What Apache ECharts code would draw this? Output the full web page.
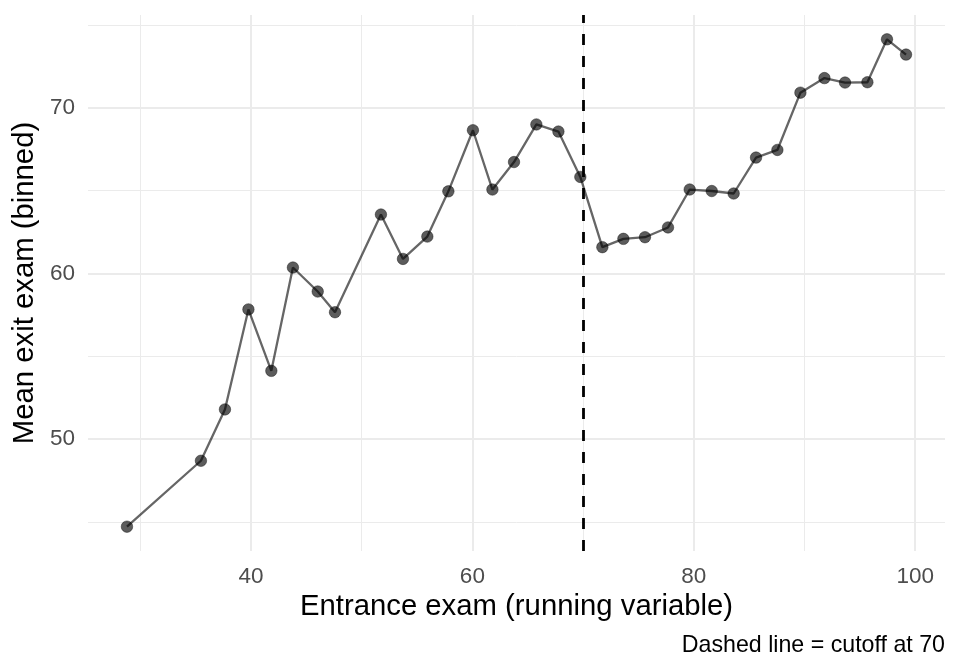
<!DOCTYPE html>
<html>
<head>
<meta charset="utf-8">
<script src="https://cdn.jsdelivr.net/npm/echarts@6/dist/echarts.min.js"></script>
<style>
html,body{margin:0;padding:0;background:#fff;}
#chart{width:960px;height:672px;}
</style>
</head>
<body>
<div id="chart"></div>
<script>
// Data
var entrance = [28.8, 35.48, 37.65, 39.77, 41.84, 43.79, 46.03, 47.59, 51.74, 53.73, 55.93, 57.83, 60.05, 61.81, 63.76, 65.78, 67.77, 69.75, 71.74, 73.64, 75.59, 77.67, 79.63, 81.62, 83.6, 85.62, 87.55, 89.63, 91.8, 93.66, 95.68, 97.45, 99.17];
var exitMean = [44.71, 48.69, 51.79, 57.83, 54.12, 60.36, 58.91, 57.66, 63.56, 60.88, 62.23, 64.96, 68.65, 65.07, 66.73, 69.0, 68.57, 65.83, 61.59, 62.09, 62.19, 62.78, 65.07, 64.98, 64.83, 67.0, 67.46, 70.92, 71.8, 71.53, 71.55, 74.14, 73.22];
var xMajorTicks = [40, 60, 80, 100];
var xMinorTicks = [30, 50, 70, 90];
var yMajorTicks = [50, 60, 70];
var yMinorTicks = [45, 55, 65, 75];
var cutoff = 70;
var xRange = [25.28, 102.69];
var yRange = [43.24, 75.61];

var FONT = 'Liberation Sans, Arial, Helvetica, sans-serif';
var points = entrance.map(function (x, i) { return [x, exitMean[i]]; });

function gridLines(vals, axisKey, width) {
  return vals.map(function (v) {
    var d = {}; d[axisKey] = v;
    d.lineStyle = { color: '#ebebeb', width: width, type: 'solid' };
    return d;
  });
}

var chart = echarts.init(document.getElementById('chart'), null, { renderer: 'canvas' });
chart.setOption({
  animation: false,
  backgroundColor: '#ffffff',
  grid: { left: 88, right: 15, top: 15, bottom: 121, containLabel: false },
  xAxis: {
    type: 'value',
    min: xRange[0], max: xRange[1],
    axisLine: { show: false }, axisTick: { show: false },
    splitLine: { show: false },
    axisLabel: {
      customValues: xMajorTicks,
      color: '#4d4d4d', fontSize: 22.5, fontFamily: FONT, margin: 14
    },
    name: 'Entrance exam (running variable)',
    nameLocation: 'middle', nameGap: 38,
    nameTextStyle: { color: '#000', fontSize: 29.3, fontFamily: FONT }
  },
  yAxis: {
    type: 'value',
    min: yRange[0], max: yRange[1],
    axisLine: { show: false }, axisTick: { show: false },
    splitLine: { show: false },
    axisLabel: {
      customValues: yMajorTicks,
      color: '#4d4d4d', fontSize: 22.5, fontFamily: FONT, margin: 13
    },
    name: 'Mean exit exam (binned)',
    nameLocation: 'middle', nameGap: 44,
    nameTextStyle: { color: '#000', fontSize: 29.3, fontFamily: FONT }
  },
  series: [
    {
      type: 'line',
      data: [],
      silent: true,
      z: 1,
      markLine: {
        silent: true, symbol: 'none', label: { show: false },
        animation: false,
        z: 1,
        data: [].concat(
          gridLines(xMinorTicks, 'xAxis', 1),
          gridLines(yMinorTicks, 'yAxis', 1),
          gridLines(xMajorTicks, 'xAxis', 2),
          gridLines(yMajorTicks, 'yAxis', 2)
        )
      }
    },
    {
      type: 'line',
      data: points,
      symbol: 'circle',
      symbolSize: 11.5,
      showSymbol: true,
      lineStyle: { color: 'rgba(0,0,0,0.6)', width: 2.3 },
      itemStyle: { color: 'rgba(0,0,0,0.64)', borderColor: 'rgba(0,0,0,0.4)', borderWidth: 1 },
      emphasis: { disabled: true },
      z: 3
    },
    {
      type: 'line',
      data: [],
      z: 6,
      markLine: {
        silent: true, symbol: 'none', label: { show: false },
        z: 6,
        lineStyle: { color: '#000', width: 2.8, type: [11, 11] },
        data: [{ xAxis: cutoff }]
      }
    }
  ],
  graphic: [
    {
      type: 'text',
      right: 15, top: 634,
      style: { text: 'Dashed line = cutoff at 70', fill: '#000', font: '23.2px ' + FONT, textAlign: 'right' }
    }
  ]
});
</script>
</body>
</html>
